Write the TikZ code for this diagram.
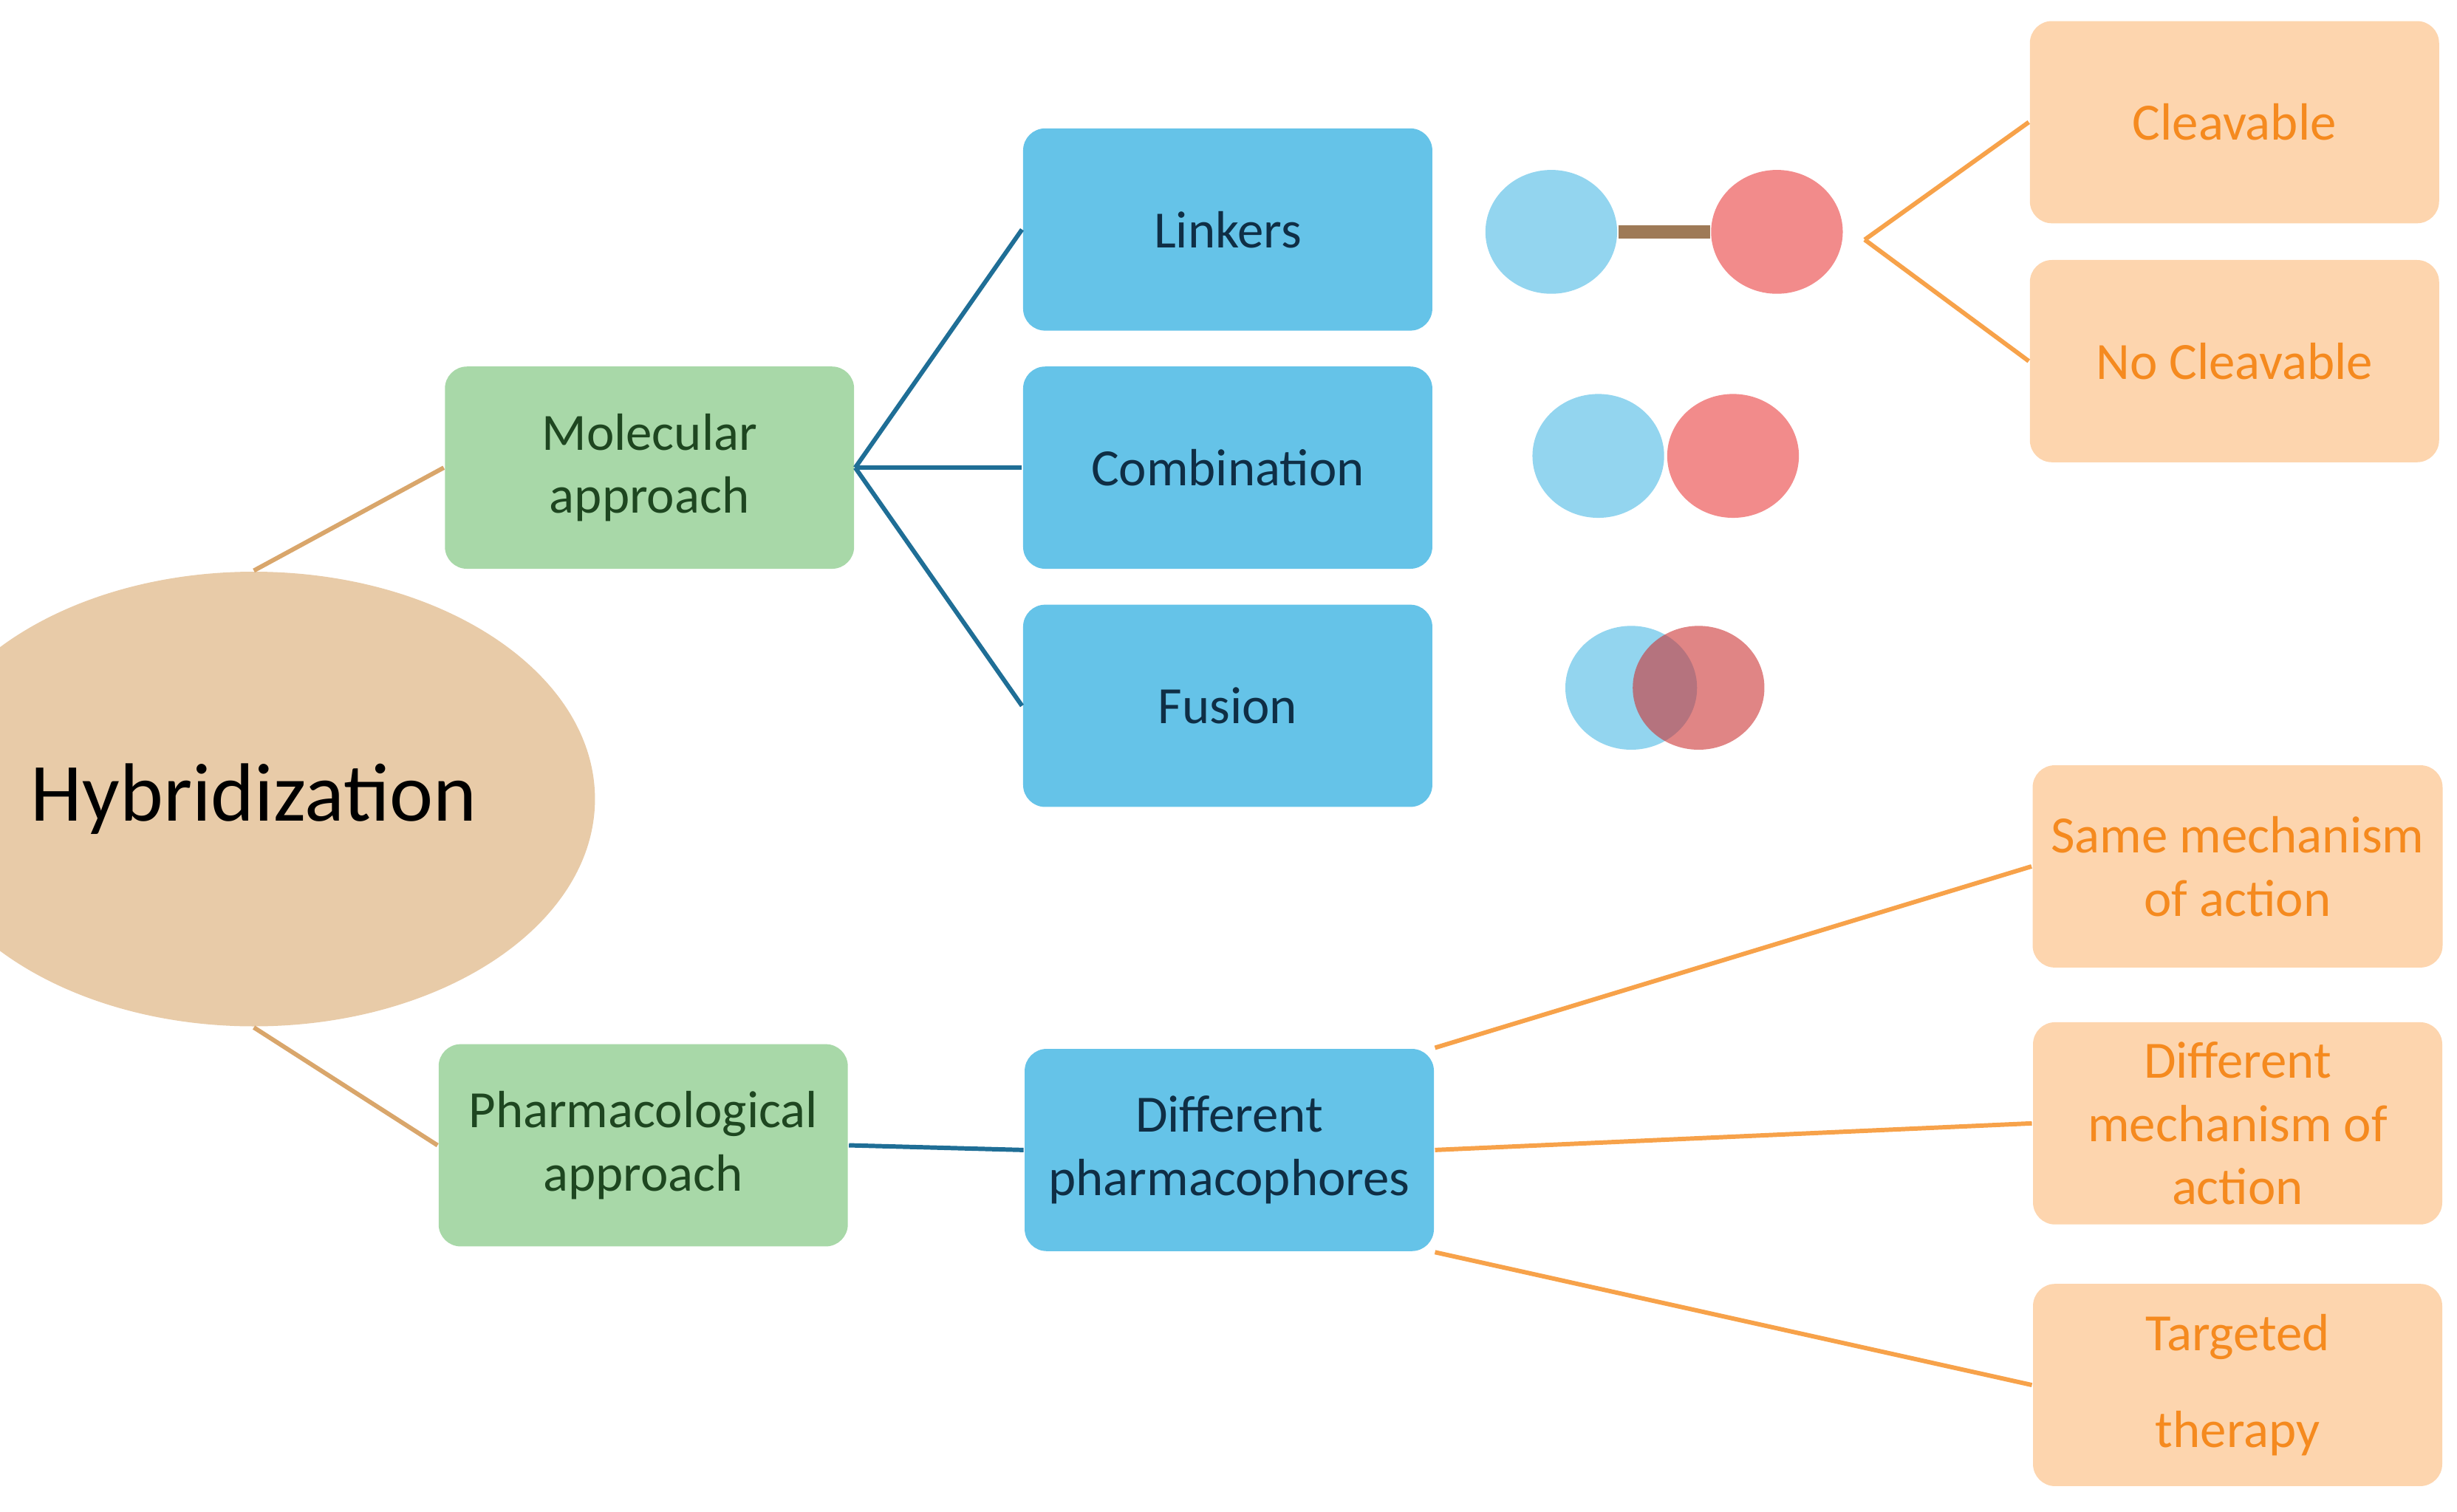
\documentclass[tikz,border=0pt]{standalone}
\usepackage{fontspec}
\setmainfont{Carlito}
\usetikzlibrary{positioning}
\definecolor{tan}{HTML}{E8CBA8}
\definecolor{leaf}{HTML}{A8D8A8}
\definecolor{leaftext}{HTML}{1E4620}
\definecolor{sky}{HTML}{65C3E8}
\definecolor{skytext}{HTML}{0F2E45}
\definecolor{peach}{HTML}{FDD5AE}
\definecolor{peachtext}{HTML}{F58A1F}
\definecolor{navy}{HTML}{1F6E96}
\definecolor{lineorange}{HTML}{F7A24A}
\definecolor{linetan}{HTML}{D9A66B}
\tikzset{
box/.style={rounded corners=4pt, minimum width=2.61cm, minimum height=1.29cm,
  align=center, font=\fontsize{9.5}{11.5}\selectfont},
approach/.style={box, fill=leaf, text=leaftext},
method/.style={box, fill=sky, text=skytext},
kind/.style={box, fill=peach, text=peachtext},
blob/.style={ellipse, minimum width=0.84cm, minimum height=0.79cm},
}
\usetikzlibrary{shapes.geometric}
\begin{document}
\begin{tikzpicture}[x=0.01cm, y=-0.01cm]
\useasboundingbox (0,0) rectangle (1568,965);
% main circle
\node[ellipse, fill=tan, minimum width=3.06cm, minimum height=2.9cm,
  font=\fontsize{15}{18}\selectfont] (hyb) at (162,510) {Hybridization};
% approaches
\node[approach] (mol) at (414.5,298.5) {Molecular\\approach};
\node[approach] (pha) at (410.5,731) {Pharmacological\\approach};
% methods
\node[method] (lnk) at (783.5,146.5) {Linkers};
\node[method] (cmb) at (783.5,298.5) {Combination};
\node[method] (fus) at (783.5,450.5) {Fusion};
\node[method] (dph) at (784.5,734) {Different\\pharmacophores};
% kinds
\node[kind] (clv) at (1426,78) {Cleavable};
\node[kind] (ncl) at (1426,230.5) {No Cleavable};
\node[kind] (sma) at (1428,553) {Same mechanism\\of action};
\node[kind] (dma) at (1428,717) {Different\\mechanism of\\action};
\node[kind] (tgt) at (1428,884) {Targeted\\[6pt]therapy};
% molecules
\node[blob, fill=sky!70] (b1) at (990,148) {};
\node[blob, fill=red!45!white!90!gray] (r1) at (1134,148) {};
\node[blob, fill=sky!70] (b2) at (1020,291) {};
\node[blob, fill=red!45!white!90!gray] (r2) at (1106,291) {};
\node[blob, fill=sky!70] (b3) at (1041,439) {};
\node[blob, fill=red!60!gray, fill opacity=0.6] (r3) at (1084,439) {};
\coordinate (fork) at (1190,153);
% connectors
\draw[linetan, thick] (hyb.north) -- (mol.west);
\draw[linetan, thick] (hyb.south) -- (pha.west);
\draw[navy, thick] (mol.east) -- (lnk.west);
\draw[navy, thick] (mol.east) -- (cmb.west);
\draw[navy, thick] (mol.east) -- (fus.west);
\draw[navy, thick] (pha.east) -- (dph.west);
\draw[brown!70!black!80, line width=2.5pt] (b1.east) -- (r1.west);
\draw[lineorange, thick] (fork) -- (clv.west);
\draw[lineorange, thick] (fork) -- (ncl.west);
\draw[lineorange, thick] (dph.north east) -- (sma.west);
\draw[lineorange, thick] (dph.east) -- (dma.west);
\draw[lineorange, thick] (dph.south east) -- (tgt.west);
\end{tikzpicture}
\end{document}
